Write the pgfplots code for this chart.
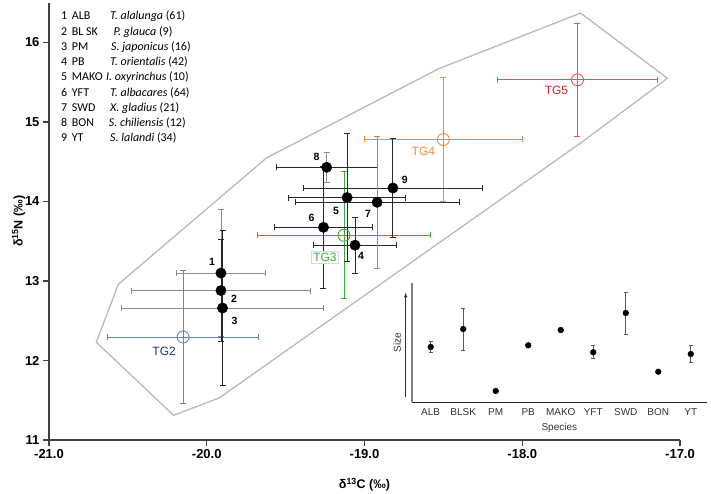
\documentclass[border=0pt]{standalone}
\usepackage{fontspec}
\setmainfont{Liberation Sans}
\newfontfamily\calibri{Carlito}
\usepackage{pgfplots}
\pgfplotsset{compat=1.18}

\newcommand\fs[1]{\fontsize{#1}{#1}\selectfont}
\definecolor{axgray}{RGB}{64,64,64}
\definecolor{hullgray}{RGB}{185,185,185}
\definecolor{ebblack}{RGB}{40,40,40}
\definecolor{ebgray}{RGB}{140,140,140}
\definecolor{tgblue}{RGB}{100,135,185}
\definecolor{tgbluelab}{RGB}{32,56,100}
\definecolor{tggreen}{RGB}{60,170,60}
\definecolor{tgorange}{RGB}{240,140,60}
\definecolor{tgred}{RGB}{235,80,85}
\definecolor{tgredlab}{RGB}{200,40,45}

\pgfplotsset{
  ebx/.style={only marks, mark=none, error bars/.cd, x dir=both, x explicit,
    error bar style={line width=0.9pt, #1},
    error mark options={rotate=90, mark size=3pt, line width=0.9pt, #1}},
  eby/.style={only marks, mark=none, error bars/.cd, y dir=both, y explicit,
    error bar style={line width=0.9pt, #1},
    error mark options={rotate=90, mark size=3pt, line width=0.9pt, #1}},
  tg/.style={#1, mark=o, mark size=6pt, only marks, mark options={line width=0.9pt, draw=#1},
    error bars/.cd, x dir=both, y dir=both, x explicit, y explicit,
    error bar style={line width=0.9pt, draw=#1},
    error mark options={rotate=90, mark size=3pt, line width=0.9pt, draw=#1}},
}

\begin{document}
\begin{tikzpicture}
\useasboundingbox (0,0) rectangle (711pt,494pt);

\begin{axis}[
  at={(49pt,54pt)}, anchor=south west,
  scale only axis, width=631pt, height=437.25pt,
  xmin=-21, xmax=-17, ymin=11, ymax=16.5,
  axis lines=left,
  axis line style={-, draw=axgray, line width=1.2pt},
  tick align=outside, major tick length=6pt,
  tick style={axgray, line width=1.2pt},
  xtick={-21,-20,-19,-18,-17},
  xticklabels={-21.0,-20.0,-19.0,-18.0,-17.0},
  ytick={11,12,13,14,15,16},
  yticklabels={11,12,13,14,15,16},
  tick label style={font=\fs{13}\bfseries},
  xlabel={δ\textsuperscript{13}C (‰)},
  ylabel={δ\textsuperscript{15}N (‰)},
  label style={font=\fs{12.5}\bfseries},
  xlabel style={at={(axis description cs:0.5,-0.103)}, anchor=center},
  ylabel style={at={(axis description cs:-0.048,0.5)}, anchor=center},
  clip=false,
]
% convex hull
\addplot[hullgray, line width=1.3pt] coordinates {
  (-17.63,16.37) (-17.08,15.55) (-17.62,14.75) (-19.92,11.53) (-20.21,11.31)
  (-20.70,12.23) (-20.56,12.96) (-19.62,14.55) (-18.53,15.67) (-17.63,16.37)
};

% trophic groups
\addplot[tg=tgblue] coordinates {(-20.15,12.295) +- (0.48,0.835)};
\addplot[tg=tggreen] coordinates {(-19.13,13.575) +- (0.55,0.80)};
\addplot[tg=tgorange] coordinates {(-18.50,14.78) +- (0.50,0.78)};
\addplot[tg=tgred] coordinates {(-17.65,15.53) +- (0.505,0.71)};

% species error bars
\addplot[ebgray, ebx=ebgray] coordinates {
  (-19.91,13.10) +- (0.28,0) (-19.91,12.88) +- (0.57,0) (-19.90,12.66) +- (0.64,0)
};
\addplot[ebblack, ebx=ebblack] coordinates {
  (-19.06,13.45) +- (0.265,0) (-19.11,14.05) +- (0.37,0) (-19.26,13.675) +- (0.31,0)
  (-18.92,13.99) +- (0.52,0) (-19.24,14.43) +- (0.32,0) (-18.82,14.17) +- (0.57,0)
};
\addplot[ebgray, eby=ebgray] coordinates {
  (-19.91,13.10) +- (0,0.80) (-18.92,13.99) +- (0,0.83) (-19.24,14.43) +- (0,0.19)
};
\addplot[ebblack, eby=ebblack] coordinates {
  (-19.91,12.88) +- (0,0.64) (-19.90,12.66) +- (0,0.98) (-19.06,13.45) +- (0,0.35)
  (-19.11,14.05) +- (0,0.80) (-19.26,13.675) +- (0,0.77) (-18.82,14.17) +- (0,0.62)
};
% species means
\addplot[only marks, mark=*, mark size=5.2pt, black] coordinates {
  (-19.91,13.10) (-19.91,12.88) (-19.90,12.66) (-19.06,13.45) (-19.11,14.05)
  (-19.26,13.675) (-18.92,13.99) (-19.24,14.43) (-18.82,14.17)
};

% point numbers
\begin{scope}[every node/.style={font=\fs{10.5}\bfseries, text=black}]
\node at (axis cs:-19.91,13.10)  [xshift=-9pt,  yshift=11.6pt] {1};
\node at (axis cs:-19.91,12.88)  [xshift=13pt,  yshift=-8pt]   {2};
\node at (axis cs:-19.90,12.66)  [xshift=12pt,  yshift=-13pt]  {3};
\node at (axis cs:-19.06,13.45)  [xshift=6pt,   yshift=-11pt]  {4};
\node at (axis cs:-19.11,14.05)  [xshift=-11pt, yshift=-13pt]  {5};
\node at (axis cs:-19.26,13.675) [xshift=-12pt, yshift=9pt]    {6};
\node at (axis cs:-18.92,13.99)  [xshift=-9pt,  yshift=-12pt]  {7};
\node at (axis cs:-19.24,14.43)  [xshift=-10pt, yshift=10pt]   {8};
\node at (axis cs:-18.82,14.17)  [xshift=12pt,  yshift=8pt]    {9};
\end{scope}

% group labels
\node[font=\fs{12}, text=tgbluelab] at (axis cs:-20.15,12.295) [xshift=-19pt, yshift=-14.6pt] {TG2};
\node[font=\fs{12}, text=tggreen, fill=white, draw=black!15, inner sep=2pt]
  at (axis cs:-19.13,13.575) [xshift=-19pt, yshift=-22pt] {TG3};
\node[font=\fs{12}, text=tgorange] at (axis cs:-18.50,14.78) [xshift=-20pt, yshift=-12pt] {TG4};
\node[font=\fs{12}, text=tgredlab] at (axis cs:-17.65,15.53) [xshift=-21pt, yshift=-11pt] {TG5};
\end{axis}

% inset: body size by species
\begin{axis}[
  at={(412pt,91.7pt)}, anchor=south west,
  scale only axis, width=294.7pt, height=119pt,
  xmin=-0.575, xmax=8.49, ymin=0, ymax=119,
  axis x line*=bottom, axis y line*=left,
  x axis line style={-, black!85, line width=1.1pt},
  y axis line style={-, black!50, line width=1.8pt},
  ytick=\empty,
  xtick={0,...,8},
  xticklabels={ALB,BLSK,PM,PB,MAKO,YFT,SWD,BON,YT},
  major tick length=0pt,
  xticklabel style={font=\fs{10}, text=black!80, yshift=-3pt},
  xlabel={Species}, ylabel={Size},
  label style={font=\fs{10}, text=black!80},
  xlabel style={at={(axis description cs:0.5,-0.215)}, anchor=center},
  ylabel style={at={(axis description cs:-0.05,0.5)}, anchor=center},
  clip=false,
]
\draw[-latex, black!80, line width=0.6pt] (rel axis cs:-0.0214,0.047) -- (rel axis cs:-0.0214,0.921);
\addplot[only marks, mark=*, mark size=2.9pt, black,
  error bars/.cd, y dir=both, y explicit,
  error bar style={black!65, line width=0.7pt},
  error mark options={rotate=90, mark size=2pt, black!65, line width=0.7pt}]
  coordinates {
  (0,55.3) +- (0,5.5)
  (1,73.3) +- (0,21)
  (2,11.3) +- (0,0)
  (3,57.0) +- (0,2)
  (4,72.3) +- (0,0)
  (5,50.0) +- (0,6.5)
  (6,89.3) +- (0,21)
  (7,30.6) +- (0,0)
  (8,48.3) +- (0,8.7)
};
\end{axis}

% species key
\begin{scope}[every node/.style={font=\calibri\fs{12}, anchor=base west, inner sep=0pt}]
\foreach \i/\c/\g/\s/\n/\xs in {
  1/ALB/T./alalunga/61/110, 2/BL SK/P./glauca/9/113.3, 3/PM/S./japonicus/16/111,
  4/PB/T./orientalis/42/110, 5/MAKO/I./oxyrinchus/10/106, 6/YFT/T./albacares/64/110,
  7/SWD/X./gladius/21/110, 8/BON/S./chiliensis/12/108.7, 9/YT/S./lalandi/34/110} {
  \node at (61pt, {(474.1-15.25*(\i-1))*1pt}) {\i};
  \node at (71.7pt, {(474.1-15.25*(\i-1))*1pt}) {\c};
  \node at (\xs pt, {(474.1-15.25*(\i-1))*1pt}) {\textit{\g\ \s} (\n)};
}
\end{scope}
\end{tikzpicture}
\end{document}
